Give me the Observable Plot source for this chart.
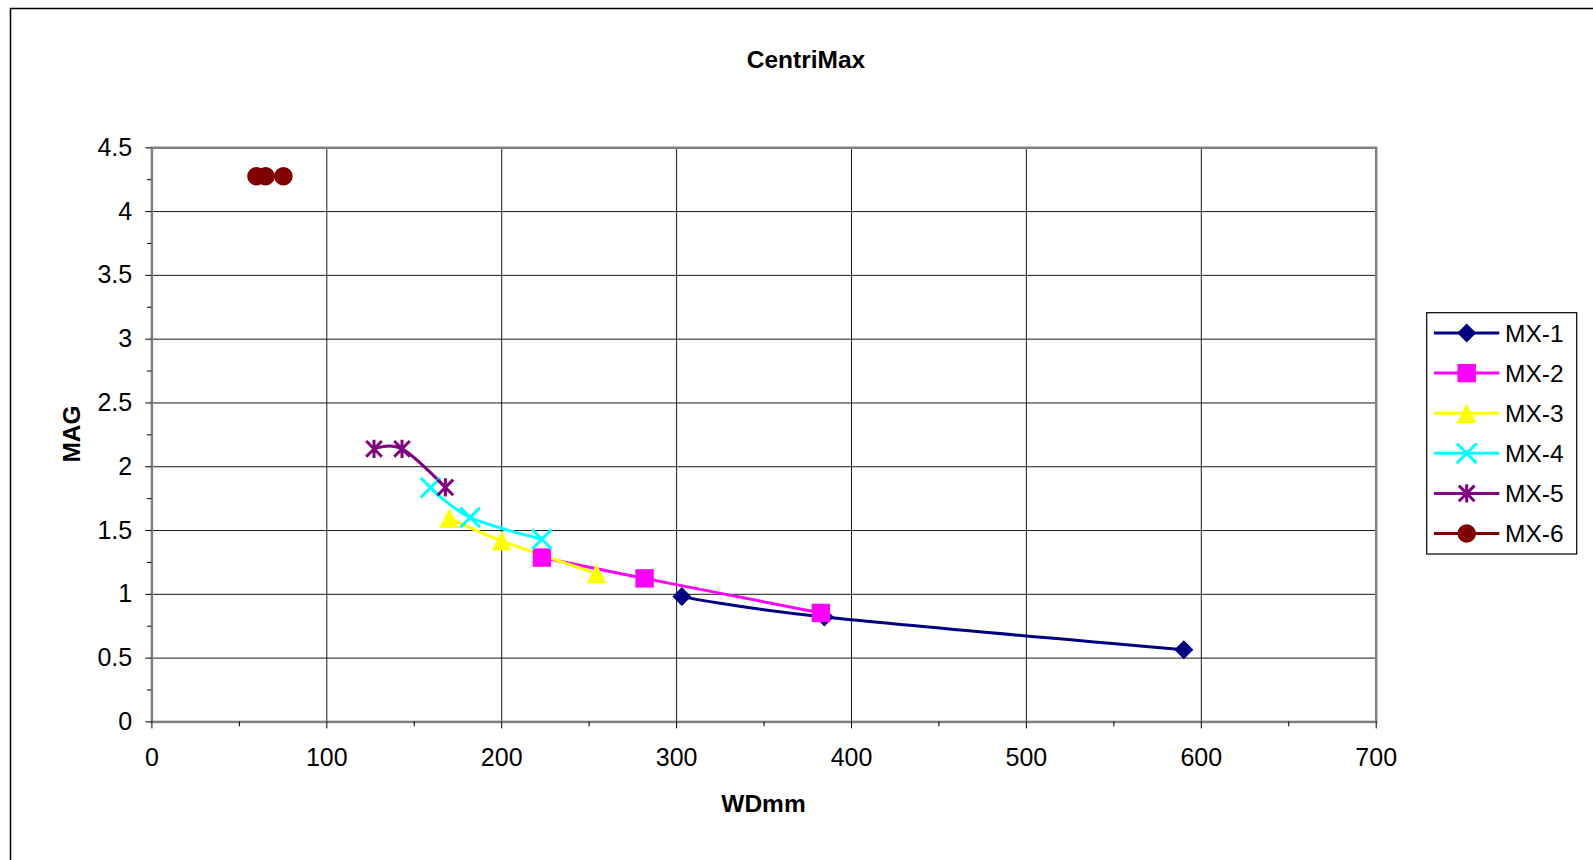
<!DOCTYPE html>
<html><head><meta charset="utf-8">
<script src="https://cdn.jsdelivr.net/npm/d3@7"></script>
<script src="https://cdn.jsdelivr.net/npm/@observablehq/plot@0.6"></script>
<style>html,body{margin:0;padding:0;background:#fff;overflow:hidden} svg{display:block}</style>
</head><body><div id="chart"></div>
<script>
const chartTitle = "CentriMax";
const xLabel = "WDmm";
const yLabel = "MAG";
const seriesNames = ["MX-1", "MX-2", "MX-3", "MX-4", "MX-5", "MX-6"];
const seriesColors = ["#000080", "#FF00FF", "#FFFF00", "#00FFFF", "#800080", "#800000"];
const mx1WD = [303, 384.5, 590];
const mx1MAG = [0.982, 0.822, 0.566];
const mx2WD = [223, 281.7, 382.5];
const mx2MAG = [1.288, 1.125, 0.854];
const mx3WD = [170, 200, 254.2];
const mx3MAG = [1.598, 1.42, 1.163];
const mx4WD = [159.3, 182, 223];
const mx4MAG = [1.836, 1.603, 1.432];
const mx5WD = [127, 143, 167.8];
const mx5MAG = [2.14, 2.14, 1.838];
const mx6WD = [59.8, 65, 75.2];
const mx6MAG = [4.277, 4.277, 4.277];
const xTicks = [0, 100, 200, 300, 400, 500, 600, 700];
const yTicks = [0, 0.5, 1, 1.5, 2, 2.5, 3, 3.5, 4, 4.5];
const xMinorTicks = [50, 150, 250, 350, 450, 550, 650];
const yMinorTicks = [0.25, 0.75, 1.25, 1.75, 2.25, 2.75, 3.25, 3.75, 4.25];

const wdArrays = [mx1WD, mx2WD, mx3WD, mx4WD, mx5WD, mx6WD];
const magArrays = [mx1MAG, mx2MAG, mx3MAG, mx4MAG, mx5MAG, mx6MAG];
const seriesData = seriesNames.map((name, i) =>
  wdArrays[i].map((wd, j) => ({series: name, wd, mag: magArrays[i][j]})));

// Excel-like marker shapes
const rad = s => Math.sqrt(s / Math.PI);
const symDiamond = {draw(c, s) { const r = rad(s); c.moveTo(0, -r); c.lineTo(r, 0); c.lineTo(0, r); c.lineTo(-r, 0); c.closePath(); }};
const symSquare = {draw(c, s) { const r = rad(s) * 0.97; c.moveTo(-r, -r); c.lineTo(r, -r); c.lineTo(r, r); c.lineTo(-r, r); c.closePath(); }};
const symTriangle = {draw(c, s) { const r = rad(s); c.moveTo(0, -r); c.lineTo(r, r); c.lineTo(-r, r); c.closePath(); }};
const symTimes = {draw(c, s) { const r = rad(s); c.moveTo(-r, -r); c.lineTo(r, r); c.moveTo(-r, r); c.lineTo(r, -r); }};
const symAsterisk = {draw(c, s) { const r = rad(s); const d = r * 0.85; c.moveTo(-d, -d); c.lineTo(d, d); c.moveTo(-d, d); c.lineTo(d, -d); c.moveTo(0, -r); c.lineTo(0, r); }};
const symCircle = {draw(c, s) { const r = rad(s); c.moveTo(r, 0); c.arc(0, 0, r, 0, 2 * Math.PI); c.closePath(); }};
const symbols = [symDiamond, symSquare, symTriangle, symTimes, symAsterisk, symCircle];
const filled = [true, true, true, false, false, true];
const markerR = [9.5, 9.5, 9.8, 9.8, 9.2, 9.3];

const font = "'Liberation Sans', Arial, sans-serif";
const W = 1593, H = 860;
const mL = 151.4, mR = W - 1375.7, mT = 147.3, mB = H - 721.4;

const marks = [
  Plot.gridX(xTicks, {stroke: "#000", strokeOpacity: 0.9, strokeWidth: 1}),
  Plot.gridY(yTicks, {stroke: "#000", strokeOpacity: 0.9, strokeWidth: 1}),
  Plot.frame({stroke: "#808080", strokeWidth: 2.5}),
  Plot.axisX({ticks: xTicks, tickSize: 7, text: null, label: null, stroke: "#000"}),
  Plot.axisX({ticks: xMinorTicks, tickSize: 5, text: null, label: null, stroke: "#000"}),
  Plot.axisY({ticks: yTicks, tickSize: 6, text: null, label: null, stroke: "#000"}),
  Plot.axisY({ticks: yMinorTicks, tickSize: 4.5, text: null, label: null, stroke: "#000"}),
  Plot.axisX({ticks: xTicks, tickSize: 0, tickPadding: 26.6, tickFormat: d => String(d), fontSize: 25, label: null}),
  Plot.axisY({ticks: yTicks, tickSize: 0, tickPadding: 19.7, tickFormat: d => String(d), fontSize: 25, label: null})
];
seriesData.forEach((data, i) => {
  marks.push(Plot.line(data, {x: "wd", y: "mag", stroke: seriesColors[i], strokeWidth: 3, curve: "cardinal"}));
});
seriesData.forEach((data, i) => {
  marks.push(Plot.dot(data, filled[i]
    ? {x: "wd", y: "mag", symbol: symbols[i], r: markerR[i], fill: seriesColors[i], stroke: "none"}
    : {x: "wd", y: "mag", symbol: symbols[i], r: markerR[i], fill: "none", stroke: seriesColors[i], strokeWidth: 3}));
});

const svg = Plot.plot({
  width: W, height: H,
  marginLeft: mL, marginRight: mR, marginTop: mT, marginBottom: mB,
  x: {domain: [0, 700], label: null},
  y: {domain: [0, 4.5], label: null},
  style: {fontFamily: font, fontSize: "25px", color: "#000", background: "#fff", overflow: "visible"},
  marks
});

const g = d3.select(svg);
// outer chart border (extends beyond the visible window)
g.insert("rect", ":first-child").attr("x", 10.5).attr("y", 8.5).attr("width", 1700).attr("height", 1000)
  .attr("fill", "#fff").attr("stroke", "#000").attr("stroke-width", 1.5);

g.append("text").text(chartTitle).attr("x", 806).attr("y", 68).attr("text-anchor", "middle")
  .attr("font-weight", "bold").attr("font-size", 24.5).attr("font-family", font).attr("fill", "#000");
g.append("text").text(xLabel).attr("x", 763.5).attr("y", 811.5).attr("text-anchor", "middle")
  .attr("font-weight", "bold").attr("font-size", 24.5).attr("font-family", font).attr("fill", "#000");
g.append("text").text(yLabel).attr("transform", "translate(80,434) rotate(-90)").attr("text-anchor", "middle")
  .attr("font-weight", "bold").attr("font-size", 24.5).attr("font-family", font).attr("fill", "#000");

// legend
const lg = g.append("g");
lg.append("rect").attr("x", 1426.7).attr("y", 312.7).attr("width", 150).attr("height", 241.3)
  .attr("fill", "#fff").attr("stroke", "#000").attr("stroke-width", 1.2);
seriesNames.forEach((name, i) => {
  const y = 333 + i * 40.1;
  lg.append("line").attr("x1", 1434).attr("x2", 1499.3).attr("y1", y).attr("y2", y)
    .attr("stroke", seriesColors[i]).attr("stroke-width", 3);
  const p = d3.symbol(symbols[i], Math.PI * markerR[i] * markerR[i])();
  const path = lg.append("path").attr("d", p).attr("transform", `translate(1466.7,${y})`);
  if (filled[i]) path.attr("fill", seriesColors[i]);
  else path.attr("fill", "none").attr("stroke", seriesColors[i]).attr("stroke-width", 3);
  lg.append("text").text(name).attr("x", 1505).attr("y", y).attr("dy", "0.35em").attr("text-anchor", "start")
    .attr("font-size", 24.5).attr("font-family", font).attr("fill", "#000");
});

document.getElementById("chart").appendChild(svg);
</script>
</body></html>
